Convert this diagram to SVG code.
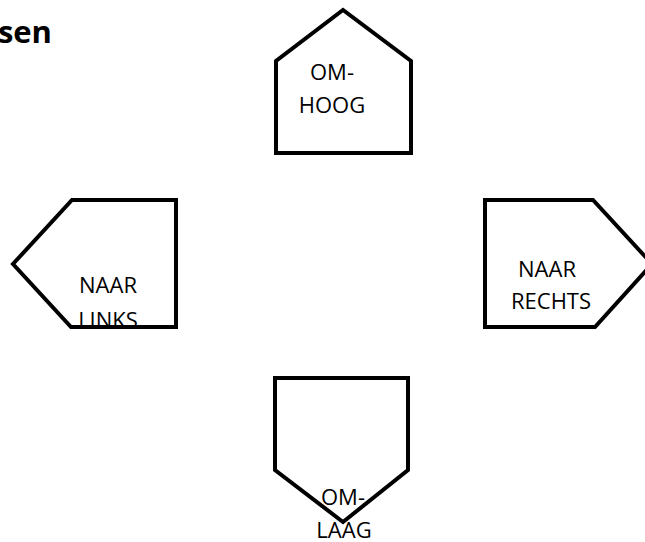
<svg xmlns="http://www.w3.org/2000/svg" width="645" height="542" viewBox="0 0 645 542">
  <style>
    .shape { fill: #ffffff; stroke: #000000; stroke-width: 4; stroke-linejoin: miter; }
    .lbl { font-family: "Open Sans", "Liberation Sans", sans-serif; font-size: 22px; fill: #000000; text-anchor: middle; }
    .title { font-family: "Open Sans", "Liberation Sans", sans-serif; font-size: 31px; font-weight: bold; fill: #000000; text-anchor: end; }
  </style>
  <defs>
    <clipPath id="clipLinks">
      <rect x="0" y="190" width="200" height="135"/>
    </clipPath>
  </defs>
  <rect x="0" y="0" width="645" height="542" fill="#ffffff"/>
  <text class="title" x="52" y="43">sen</text>

  <g id="connectors"/>

  <g id="omhoog">
    <polygon class="shape" points="276,153 276,61 343,10 411,61 411,153"/>
    <text class="lbl" x="332" y="80">OM-</text>
    <text class="lbl" x="332" y="113">HOOG</text>
  </g>

  <g id="naar-links">
    <polygon class="shape" points="72,200 176,200 176,327 71,327 13,264"/>
    <g clip-path="url(#clipLinks)">
      <text class="lbl" x="108" y="293">NAAR</text>
      <text class="lbl" x="108" y="328">LINKS</text>
    </g>
  </g>

  <g id="naar-rechts">
    <polygon class="shape" points="485,200 593,200 652,264 595,327 485,327"/>
    <text class="lbl" x="547" y="277">NAAR</text>
    <text class="lbl" x="551" y="309">RECHTS</text>
  </g>

  <g id="omlaag">
    <polygon class="shape" points="275,378 408,378 408,470 343,522 275,470"/>
    <text class="lbl" x="343" y="505">OM-</text>
    <text class="lbl" x="344" y="538">LAAG</text>
  </g>
</svg>
